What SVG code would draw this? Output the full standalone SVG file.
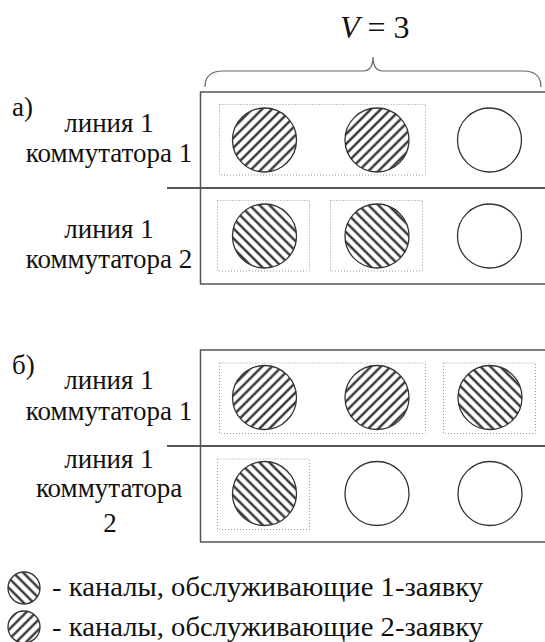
<svg xmlns="http://www.w3.org/2000/svg" width="545" height="642" viewBox="0 0 545 642">
<style>
text{font-family:"Liberation Serif","Times New Roman","DejaVu Serif",serif;fill:#111;font-size:27px}
.lbl{text-anchor:middle}
.leg{font-size:27px}
.box{fill:none;stroke:#555;stroke-width:1.5}
.div{stroke:#555;stroke-width:2.2}
.ch{stroke:#333;stroke-width:1.3}
.free{fill:#fff}
.s1{fill:url(#h1)}
.s2{fill:url(#h2)}
.grp{fill:none;stroke:#999;stroke-width:1;stroke-dasharray:1 2}
.brace{fill:none;stroke:#666;stroke-width:1.2}
</style>
<defs>
<pattern id="h1" patternUnits="userSpaceOnUse" width="7" height="7" patternTransform="rotate(-45)">
<rect width="7" height="7" fill="#fff"/>
<line x1="3.5" y1="0" x2="3.5" y2="7" stroke="#222" stroke-width="2.2"/>
</pattern>
<pattern id="h2" patternUnits="userSpaceOnUse" width="7" height="7" patternTransform="rotate(45)">
<rect width="7" height="7" fill="#fff"/>
<line x1="3.5" y1="0" x2="3.5" y2="7" stroke="#222" stroke-width="2.2"/>
</pattern>
</defs>

<g id="title">
<text x="340" y="38" style="font-size:32px"><tspan font-style="italic">V</tspan> = 3</text>
<path class="brace" d="M205,87 Q205,71 223,71 L363,71 Q373,71 373,57 Q373,71 383,71 L523,71 Q541,71 541,87"/>
</g>

<g id="panel-a">
<text x="12" y="116">а)</text>
<path class="box" d="M545,92 H200.5 V284 H545"/>
<line class="div" x1="167" y1="188" x2="545" y2="188"/>
<text class="lbl" x="109" y="132">линия 1</text>
<text class="lbl" x="109" y="162">коммутатора 1</text>
<text class="lbl" x="109" y="238">линия 1</text>
<text class="lbl" x="109" y="268">коммутатора 2</text>
<rect class="grp" x="219.5" y="104.5" width="206" height="70.5"/>
<rect class="grp" x="217.5" y="200.5" width="92" height="70.5"/>
<rect class="grp" x="330.5" y="200.5" width="92" height="70.5"/>
<circle id="a-c11" class="ch s2" cx="264.5" cy="140" r="32"/>
<circle id="a-c12" class="ch s2" cx="377" cy="140" r="32"/>
<circle id="a-c13" class="ch free" cx="489.5" cy="140" r="32"/>
<circle id="a-c21" class="ch s1" cx="264.5" cy="236" r="32"/>
<circle id="a-c22" class="ch s1" cx="377" cy="236" r="32"/>
<circle id="a-c23" class="ch free" cx="489.5" cy="236" r="32"/>
</g>

<g id="panel-b">
<text x="12" y="374">б)</text>
<path class="box" d="M545,350 H200.5 V542 H545"/>
<line class="div" x1="167" y1="446" x2="545" y2="446"/>
<text class="lbl" x="109" y="389">линия 1</text>
<text class="lbl" x="109" y="420">коммутатора 1</text>
<text class="lbl" x="109" y="468">линия 1</text>
<text class="lbl" x="109" y="497">коммутатора</text>
<text class="lbl" x="110" y="532">2</text>
<rect class="grp" x="219.5" y="363" width="206" height="70.5"/>
<rect class="grp" x="443.5" y="363" width="92" height="70.5"/>
<rect class="grp" x="217.5" y="459" width="92" height="70.5"/>
<circle id="b-c11" class="ch s2" cx="264.5" cy="397.5" r="32"/>
<circle id="b-c12" class="ch s2" cx="377" cy="397.5" r="32"/>
<circle id="b-c13" class="ch s1" cx="490" cy="397.5" r="32"/>
<circle id="b-c21" class="ch s1" cx="264.5" cy="493.5" r="32"/>
<circle id="b-c22" class="ch free" cx="377" cy="493.5" r="32"/>
<circle id="b-c23" class="ch free" cx="490" cy="493.5" r="32"/>
</g>

<g id="legend">
<circle class="ch s1" cx="24" cy="588" r="16"/>
<text class="leg" x="52" y="596" textLength="431" lengthAdjust="spacingAndGlyphs">- каналы, обслуживающие 1-заявку</text>
<circle class="ch s2" cx="24" cy="627" r="16"/>
<text class="leg" x="52" y="636" textLength="431" lengthAdjust="spacingAndGlyphs">- каналы, обслуживающие 2-заявку</text>
</g>
</svg>
